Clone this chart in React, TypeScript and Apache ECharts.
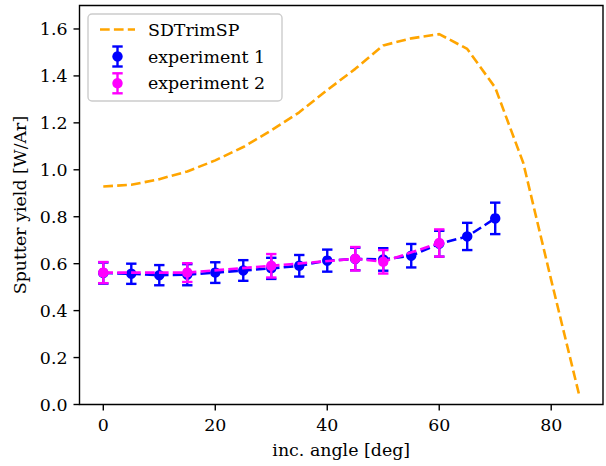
import React, { useEffect, useRef } from "react";
import * as echarts from "echarts";

const SIM_ANGLES = [0, 5, 10, 15, 20, 25, 30, 35, 40, 45, 50, 55, 60, 65, 70, 75, 80, 85];
const SIM_YIELD = [0.929, 0.936, 0.96, 0.993, 1.04, 1.097, 1.168, 1.245, 1.34, 1.43, 1.53, 1.56, 1.578, 1.515, 1.35, 1.03, 0.53, 0.04];

const EXP1_ANGLES = [0, 5, 10, 15, 20, 25, 30, 35, 40, 45, 50, 55, 60, 65, 70];
const EXP1_YIELD = [0.56, 0.557, 0.551, 0.553, 0.562, 0.571, 0.58, 0.591, 0.613, 0.62, 0.618, 0.634, 0.685, 0.716, 0.793];
const EXP1_ERR = [0.045, 0.043, 0.043, 0.045, 0.044, 0.044, 0.045, 0.046, 0.047, 0.048, 0.048, 0.05, 0.055, 0.058, 0.067];

const EXP2_ANGLES = [0, 15, 30, 45, 50, 60];
const EXP2_YIELD = [0.562, 0.562, 0.591, 0.621, 0.608, 0.688];
const EXP2_ERR = [0.045, 0.04, 0.05, 0.05, 0.05, 0.058];

const X_MIN = -4.25;
const X_MAX = 89.25;
const Y_MIN = 0;
const Y_MAX = 1.7;
const X_TICKS = [0, 20, 40, 60, 80];
const Y_TICKS = [0, 0.2, 0.4, 0.6, 0.8, 1.0, 1.2, 1.4, 1.6];

const LEGEND_LABELS = ["SDTrimSP", "experiment 1", "experiment 2"];

const FONT = "DejaVu Serif";
const FS = 17.4;
const ORANGE = "#FFA500";
const BLUE = "#0000FF";
const MAGENTA = "#FF00FF";
const DASH = [9.7, 4.2];
const CAP = 5.2;
const ELW = 2.4;
const TICK_LEN = 6;

function errRender(color: string) {
  return (params: any, api: any) => {
    const x = api.value(0);
    const y = api.value(1);
    const e = api.value(2);
    const t = api.coord([x, y + e]);
    const b = api.coord([x, y - e]);
    const st = { stroke: color, lineWidth: ELW };
    return {
      type: "group",
      children: [
        { type: "line", shape: { x1: t[0], y1: t[1], x2: b[0], y2: b[1] }, style: st },
        { type: "line", shape: { x1: t[0] - CAP, y1: t[1], x2: t[0] + CAP, y2: t[1] }, style: st },
        { type: "line", shape: { x1: b[0] - CAP, y1: b[1], x2: b[0] + CAP, y2: b[1] }, style: st },
      ],
    };
  };
}

function legendErr(cx: number, cy: number, color: string) {
  const st = { stroke: color, lineWidth: ELW };
  return [
    { type: "line", z: 101, shape: { x1: cx, y1: cy - 10, x2: cx, y2: cy + 10 }, style: st },
    { type: "line", z: 101, shape: { x1: cx - CAP, y1: cy - 10, x2: cx + CAP, y2: cy - 10 }, style: st },
    { type: "line", z: 101, shape: { x1: cx - CAP, y1: cy + 10, x2: cx + CAP, y2: cy + 10 }, style: st },
    { type: "circle", z: 102, shape: { cx, cy, r: 5.2 }, style: { fill: color } },
  ];
}

export default function App() {
  const ref = useRef<HTMLDivElement>(null);
  useEffect(() => {
    if (!ref.current) return;
    const chart = echarts.init(ref.current, null, { renderer: "svg" });
    const rowY = [29.5, 56.5, 83.3];
    const tickStyle = { stroke: "#000", lineWidth: 1.4 };
    const option: any = {
      animation: false,
      backgroundColor: "#ffffff",
      textStyle: { fontFamily: FONT },
      grid: {
        left: 79.5,
        right: 3,
        top: 5.5,
        bottom: 61.5,
        show: true,
        borderColor: "#000",
        borderWidth: 1.4,
        backgroundColor: "transparent",
      },
      xAxis: {
        type: "value",
        min: X_MIN,
        max: X_MAX,
        name: "inc. angle [deg]",
        nameLocation: "middle",
        nameGap: 37,
        nameTextStyle: { fontFamily: FONT, fontSize: FS, color: "#000" },
        axisLine: { show: false },
        splitLine: { show: false },
        axisTick: { show: false },
        axisLabel: { margin: 12, fontFamily: FONT, fontSize: FS, color: "#000", customValues: X_TICKS, formatter: (v: number) => String(v) },
      },
      yAxis: {
        type: "value",
        min: Y_MIN,
        max: Y_MAX,
        name: "Sputter yield [W/Ar]",
        nameLocation: "middle",
        nameGap: 48,
        nameRotate: 90,
        nameTextStyle: { fontFamily: FONT, fontSize: FS, color: "#000" },
        axisLine: { show: false },
        splitLine: { show: false },
        axisTick: { show: false },
        axisLabel: { margin: 12, fontFamily: FONT, fontSize: FS, color: "#000", customValues: Y_TICKS, formatter: (v: number) => v.toFixed(1) },
      },
      series: [
        {
          type: "custom",
          name: "xticks",
          silent: true,
          clip: false,
          data: X_TICKS.map((v) => [v, Y_MIN]),
          encode: { x: 0, y: 1 },
          renderItem: (params: any, api: any) => {
            const p = api.coord([api.value(0), api.value(1)]);
            return { type: "line", shape: { x1: p[0], y1: p[1], x2: p[0], y2: p[1] + TICK_LEN }, style: tickStyle };
          },
          z: 1,
        },
        {
          type: "custom",
          name: "yticks",
          silent: true,
          clip: false,
          data: Y_TICKS.map((v) => [X_MIN, v]),
          encode: { x: 0, y: 1 },
          renderItem: (params: any, api: any) => {
            const p = api.coord([api.value(0), api.value(1)]);
            return { type: "line", shape: { x1: p[0] - TICK_LEN, y1: p[1], x2: p[0], y2: p[1] }, style: tickStyle };
          },
          z: 1,
        },
        {
          type: "line",
          name: LEGEND_LABELS[0],
          data: SIM_ANGLES.map((a, i) => [a, SIM_YIELD[i]]),
          showSymbol: false,
          symbol: "none",
          lineStyle: { color: ORANGE, width: 2.6, type: DASH },
          z: 2,
        },
        {
          type: "custom",
          name: LEGEND_LABELS[1] + " err",
          data: EXP1_ANGLES.map((a, i) => [a, EXP1_YIELD[i], EXP1_ERR[i]]),
          encode: { x: 0, y: 1 },
          renderItem: errRender(BLUE),
          z: 3,
        },
        {
          type: "line",
          name: LEGEND_LABELS[1],
          data: EXP1_ANGLES.map((a, i) => [a, EXP1_YIELD[i]]),
          symbol: "circle",
          symbolSize: 10.4,
          itemStyle: { color: BLUE },
          lineStyle: { color: BLUE, width: 2.6, type: DASH },
          z: 4,
        },
        {
          type: "custom",
          name: LEGEND_LABELS[2] + " err",
          data: EXP2_ANGLES.map((a, i) => [a, EXP2_YIELD[i], EXP2_ERR[i]]),
          encode: { x: 0, y: 1 },
          renderItem: errRender(MAGENTA),
          z: 5,
        },
        {
          type: "line",
          name: LEGEND_LABELS[2],
          data: EXP2_ANGLES.map((a, i) => [a, EXP2_YIELD[i]]),
          symbol: "circle",
          symbolSize: 10.4,
          itemStyle: { color: MAGENTA },
          lineStyle: { color: MAGENTA, width: 2.6, type: DASH },
          z: 6,
        },
      ],
      graphic: [
        {
          type: "rect",
          z: 100,
          shape: { x: 88, y: 14, width: 194, height: 87, r: 4 },
          style: { fill: "rgba(255,255,255,0.8)", stroke: "#cccccc", lineWidth: 1.4 },
        },
        {
          type: "line",
          z: 101,
          shape: { x1: 100, y1: rowY[0], x2: 135, y2: rowY[0] },
          style: { stroke: ORANGE, lineWidth: 2.6, lineDash: DASH },
        },
        ...legendErr(117.5, rowY[1], BLUE),
        ...legendErr(117.5, rowY[2], MAGENTA),
        ...LEGEND_LABELS.map((t, i) => ({
          type: "text",
          z: 101,
          x: 148,
          y: rowY[i],
          style: { text: t, fontFamily: FONT, fontSize: FS, fill: "#000", verticalAlign: "middle", align: "left" },
        })),
      ],
    };
    chart.setOption(option);
    return () => chart.dispose();
  }, []);
  return <div ref={ref} style={{ position: "fixed", left: 0, top: 0, width: 606, height: 466 }} />;
}
